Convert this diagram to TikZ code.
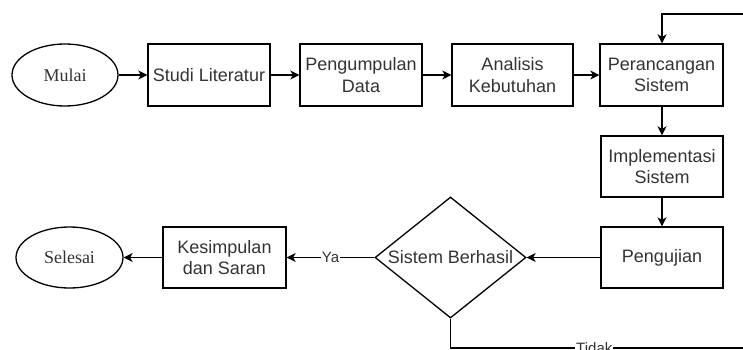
\documentclass[tikz,border=0pt]{standalone}
\usepackage{fontspec}
\setmainfont{Liberation Serif}
\setsansfont{Liberation Sans}
\usetikzlibrary{shapes.geometric,arrows.meta}
\begin{document}
\begin{tikzpicture}[x=1pt,y=-1pt,
  every node/.style={text=black!80},
  lw/.style={line width=1.3pt},
  boxnode/.style={draw,lw,rectangle,minimum width=122pt,minimum height=62pt,inner sep=0pt,align=center,
    font=\sffamily\fontsize{18}{21.6}\selectfont},
  termnode/.style={draw,lw,ellipse,minimum width=106pt,minimum height=62pt,inner sep=0pt,
    font=\rmfamily\fontsize{18}{21.6}\selectfont},
  decnode/.style={draw,lw,diamond,minimum width=151pt,minimum height=121pt,inner sep=0pt},
  arr/.style={lw,-{Stealth[length=9pt,width=9pt,inset=2.5pt]}},
  edgelabel/.style={fill=white,inner sep=1pt,font=\sffamily\fontsize{15}{18}\selectfont}]
\useasboundingbox (0,0) rectangle (743,350);
\clip (0,0) rectangle (743,350);
\node[termnode] (mulai) at (65,75) {Mulai};
\node[boxnode] (studi) at (209,75) {Studi Literatur};
\node[boxnode] (kumpul) at (361,75) {Pengumpulan\\Data};
\node[boxnode,minimum width=121pt] (analisis) at (512.5,75) {Analisis\\Kebutuhan};
\node[boxnode,minimum width=123pt] (rancang) at (661.5,75) {Perancangan\\Sistem};
\node[boxnode,minimum height=61pt] (impl) at (662,166.5) {Implementasi\\Sistem};
\node[boxnode,minimum height=61pt] (uji) at (662,257.5) {Pengujian};
\node[decnode,label={[font=\sffamily\fontsize{18}{21.6}\selectfont,text=black!80]center:Sistem Berhasil}] (dec) at (450.5,257.5) {};
\node[boxnode,minimum width=123pt,minimum height=61pt] (simpul) at (224.5,257.5) {Kesimpulan\\dan Saran};
\node[termnode,minimum width=107pt,minimum height=61pt] (selesai) at (69.5,257.5) {Selesai};
\coordinate (r1) at (770,348);
\coordinate (top) at (662,14);
\draw[arr] (mulai) -- (studi);
\draw[arr] (studi) -- (kumpul);
\draw[arr] (kumpul) -- (analisis);
\draw[arr] (analisis) -- (rancang);
\draw[arr] (rancang.south -| top) -- (impl.north -| top);
\draw[arr] (impl.south -| top) -- (uji.north -| top);
\draw[arr] (uji) -- (dec);
\draw[arr] (dec) -- node[edgelabel]{Ya} (simpul);
\draw[arr] (simpul) -- (selesai);
\draw[arr] (dec.south) |- node[edgelabel,pos=0.725]{Tidak} (r1) |- (top) -- (rancang.north -| top);
\end{tikzpicture}
\end{document}
